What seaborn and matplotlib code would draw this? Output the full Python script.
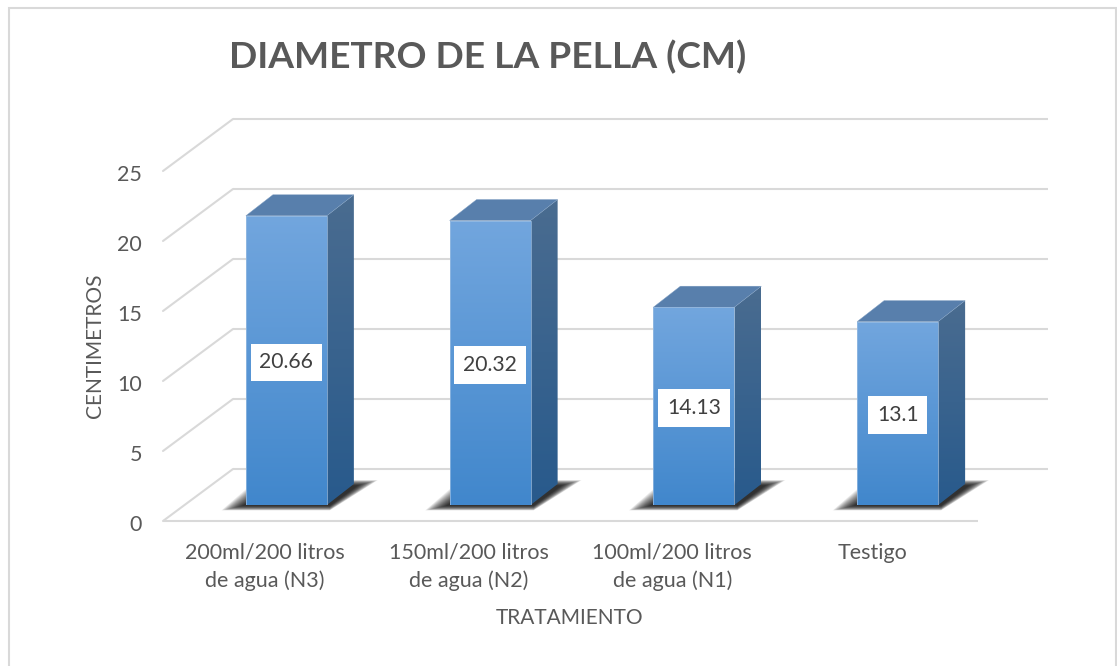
import numpy as np
import pandas as pd
import seaborn as sns
import matplotlib
matplotlib.use("Agg")
from matplotlib import pyplot as plt
from matplotlib import transforms as mtrans
from matplotlib.colors import LinearSegmentedColormap
from matplotlib.patches import Polygon, Rectangle

# datos
tratamientos = ["200ml/200 litros\nde agua (N3)", "150ml/200 litros\nde agua (N2)",
                "100ml/200 litros\nde agua (N1)", "Testigo"]
diametro = [20.66, 20.32, 14.13, 13.1]
etiquetas = ["20.66", "20.32", "14.13", "13.1"]
marcas_y = [0, 5, 10, 15, 20, 25]

W, H = 1117, 666
GRIS = "#D9D9D9"
TEXTO = "#595959"

sns.set_theme(style="white")
plt.rcParams["font.family"] = ["Lato", "DejaVu Sans"]

fig = plt.figure(figsize=(W / 100, H / 100), dpi=100, facecolor="white")


def caja(x0, y_abajo, ancho, alto):
    return [x0 / W, (H - y_abajo) / H, ancho / W, alto / H]


def corrimiento(px, py):
    return mtrans.ScaledTranslation(px / 100, py / 100, fig.dpi_scale_trans)


# marco exterior
fig.add_artist(Rectangle((8.5 / W, -0.02), (1115.5 - 8.5) / W, 1.02 - 8 / H, transform=fig.transFigure,
                         fill=False, edgecolor=GRIS, linewidth=1.5))

# ejes del plano frontal (rejilla, marcas)
ax = fig.add_axes(caja(163, 521, 815, 350))
ax.patch.set_alpha(0)
ax.set_xlim(-0.5, 3.5)
ax.set_ylim(0, 25)
sns.despine(ax=ax, left=True, bottom=True)

fondo = ax.transData + corrimiento(70, 52)
for v in marcas_y:
    ax.plot([-0.5, 3.5], [v, v], transform=fondo, color=GRIS, lw=1.5, clip_on=False, solid_capstyle="butt")
    # diagonal de la pared lateral
    p0 = ax.transData.transform((-0.5, v))
    p1 = fondo.transform((-0.5, v))
    ax.plot([p0[0], p1[0]], [p0[1], p1[1]], transform=None, color=GRIS, lw=1.5, clip_on=False)
ax.plot([-0.5, 3.5], [0, 0], color=GRIS, lw=1.5, clip_on=False, solid_capstyle="butt")

ax.set_yticks(marcas_y)
ax.set_xticks(range(4))
ax.set_xticklabels(tratamientos, linespacing=1.5)
ax.tick_params(axis="y", length=0, pad=15, labelsize=15.5, labelcolor=TEXTO)
ax.tick_params(axis="x", length=0, pad=15.5, labelsize=15.5, labelcolor=TEXTO)
for t in ax.get_yticklabels():
    t.set_transform(t.get_transform() + corrimiento(0, -2))
testigo = ax.get_xticklabels()[3]
testigo.set_transform(testigo.get_transform() + corrimiento(-4, 0))

# ejes de las barras, desplazados hacia el fondo
ax_b = fig.add_axes(caja(163 + 21.5, 505, 815, 350))
ax_b.patch.set_alpha(0)
df = pd.DataFrame({"tratamiento": tratamientos, "diametro": diametro})
sns.barplot(data=df, x="tratamiento", y="diametro", ax=ax_b, color="#5B9BD5", width=0.3975, saturation=1)
ax_b.set_xlim(-0.5, 3.5)
ax_b.set_ylim(0, 25)
ax_b.axis("off")

px_x = 4 / 815  # unidades de x por pixel
px_y = 25 / 350  # unidades de y por pixel
dx, dy = 27 * px_x, 21 * px_y

frente = LinearSegmentedColormap.from_list("frente", ["#72A6DE", "#4187CC"])
lateral = LinearSegmentedColormap.from_list("lateral", ["#4A6C90", "#285A8C"])
grad = np.linspace(0, 1, 256).reshape(-1, 1)

for barra, etiqueta in zip(ax_b.patches, etiquetas):
    x0, x1 = barra.get_x(), barra.get_x() + barra.get_width()
    alto = barra.get_height()

    # sombra difusa sobre el piso, por capas
    for e in np.arange(14, 0, -0.7):
        abajo = -(0.5 + e * 0.35) * px_y
        arriba = (23.5 - (14 - e) * 0.3 + e * 0.1) * px_y
        sombra = Polygon([(x0 - (2 + 1.6 * e) * px_x, abajo),
                          (x1 + 3 * px_x, abajo),
                          (x1 + (30 + 1.5 * e) * px_x, arriba),
                          (x0 + (33 - 1.6 * e) * px_x, arriba)],
                         closed=True, facecolor="black", edgecolor="none", alpha=0.075, zorder=1, clip_on=False)
        ax_b.add_patch(sombra)

    barra.set_facecolor("none")
    barra.set_edgecolor("#9DBFE3")
    barra.set_linewidth(0.5)
    barra.set_zorder(4)

    im = ax_b.imshow(grad, cmap=frente, extent=(x0, x1, 0, alto), aspect="auto", origin="upper", zorder=3)
    im.set_clip_path(Rectangle((x0, 0), x1 - x0, alto, transform=ax_b.transData))

    cara = Polygon([(x1, 0), (x1 + dx, dy), (x1 + dx, alto + dy), (x1, alto)], closed=True,
                   transform=ax_b.transData, facecolor="none", edgecolor="none")
    ax_b.add_patch(cara)
    im2 = ax_b.imshow(grad, cmap=lateral, extent=(x1, x1 + dx, 0, alto + dy), aspect="auto", origin="upper", zorder=3)
    im2.set_clip_path(cara)

    ax_b.add_patch(Polygon([(x0, alto), (x1, alto), (x1 + dx, alto + dy), (x0 + dx, alto + dy)], closed=True,
                           facecolor="#587FAC", edgecolor="#7F9FC2", linewidth=0.3, zorder=3))

    ax_b.text((x0 + x1) / 2, alto / 2 - 2 * px_y, etiqueta, ha="center", va="center", fontsize=15.2, color="#404040",
              zorder=6, bbox=dict(boxstyle="square,pad=0.42", facecolor="white", edgecolor="none"))

ax_b.set_xlim(-0.5, 3.5)
ax_b.set_ylim(0, 25)

fig.text(229 / W, 1 - 57 / H, "DIAMETRO DE LA PELLA (CM)", fontsize=26.7, fontweight="bold", color=TEXTO,
         ha="left", va="center")
fig.text(95 / W, 1 - 346 / H, "CENTIMETROS", rotation=90, fontsize=15, color=TEXTO, ha="center", va="center")
fig.text(570 / W, 1 - 618 / H, "TRATAMIENTO", fontsize=15, color=TEXTO, ha="center", va="center")

fig.savefig("out.png", dpi=100, facecolor="white")
